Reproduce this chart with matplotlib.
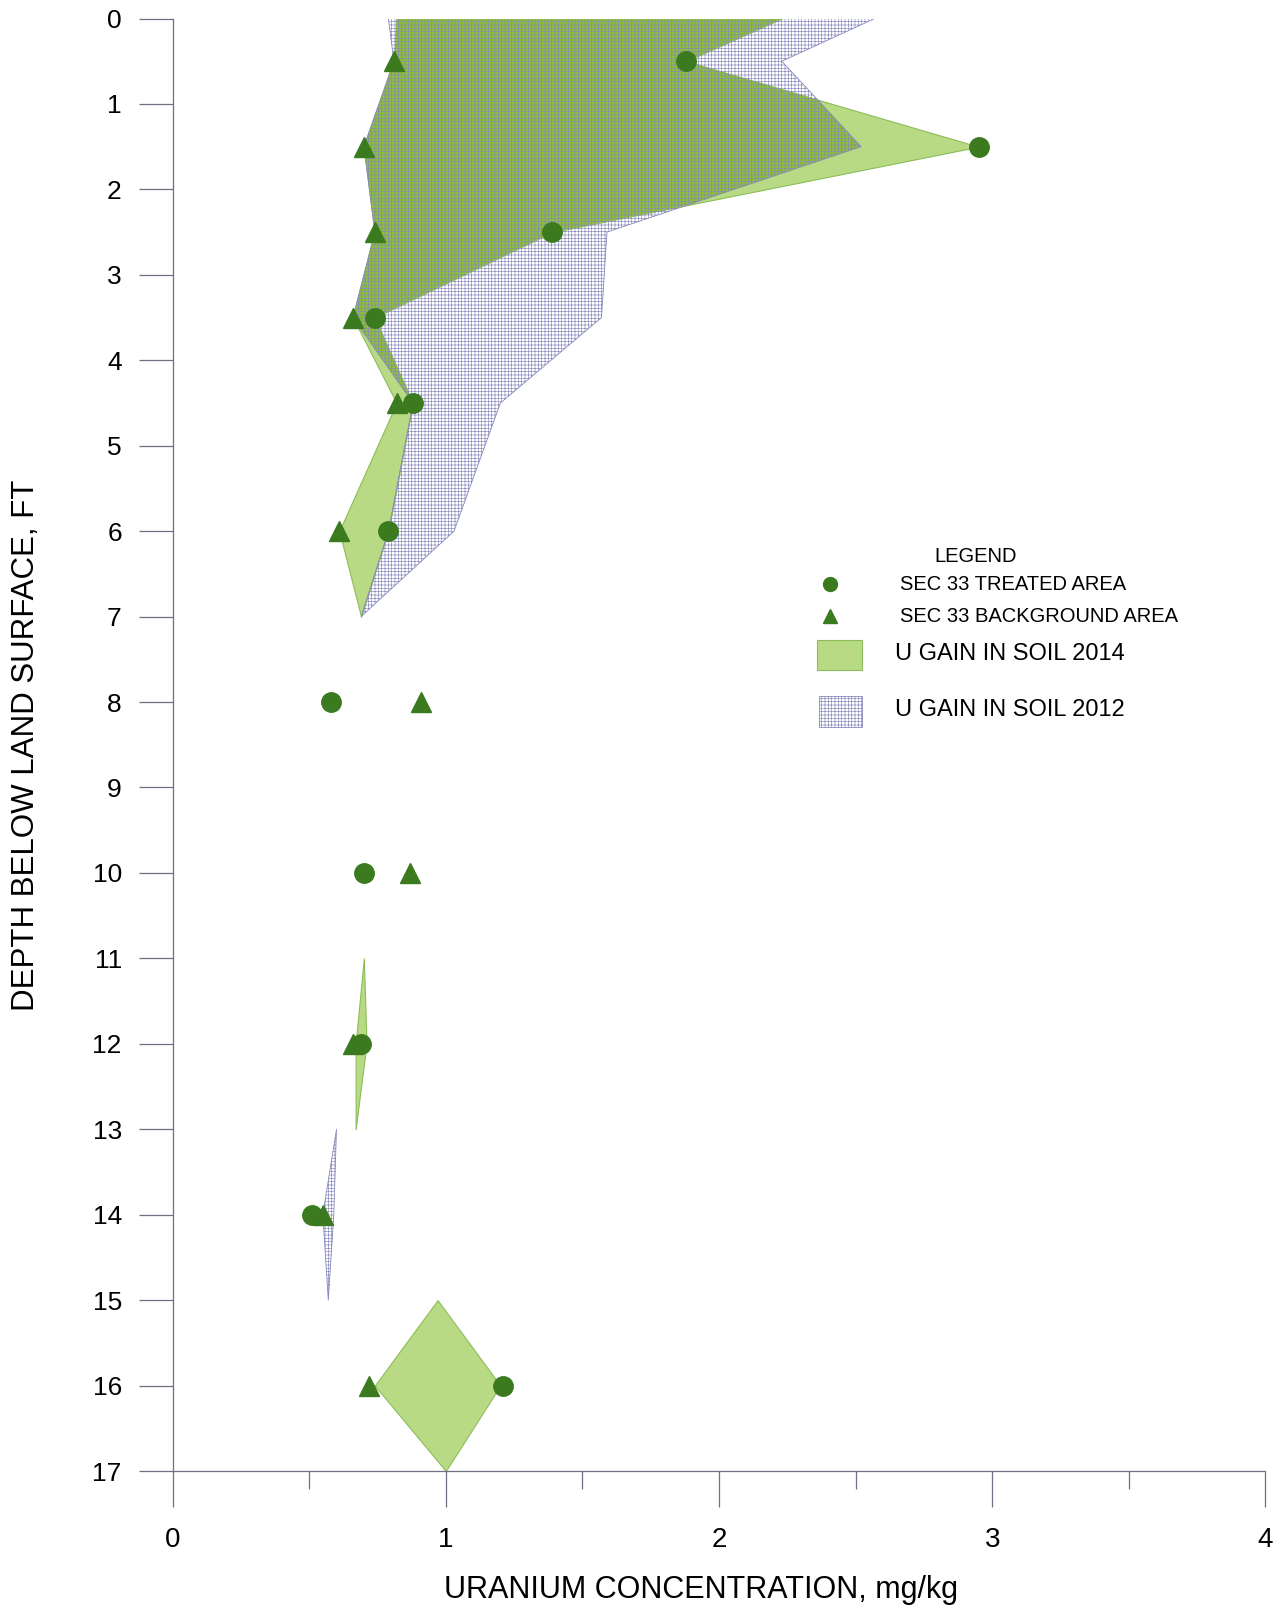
import matplotlib
matplotlib.use('Agg')
import matplotlib.pyplot as plt
from matplotlib.patches import Rectangle
from matplotlib.lines import Line2D

plt.rcParams['font.family'] = ['Liberation Sans', 'DejaVu Sans']
plt.rcParams['hatch.linewidth'] = 0.45

# sample depths (ft) and uranium concentration (mg/kg)
depth = [0.5, 1.5, 2.5, 3.5, 4.5, 6, 8, 10, 12, 14, 16]
treated = [1.88, 2.95, 1.39, 0.74, 0.88, 0.79, 0.58, 0.70, 0.69, 0.51, 1.21]
background = [0.81, 0.70, 0.74, 0.66, 0.82, 0.61, 0.91, 0.87, 0.66, 0.55, 0.72]

# U gain envelopes: depth, left edge, right edge (one entry per patch)
gain14_depth = [[0, 0.5, 1.5, 2.5, 3.5, 4.5, 6, 7], [11, 12, 13], [15, 16, 17]]
gain14_left = [[0.82, 0.81, 0.70, 0.74, 0.66, 0.82, 0.61, 0.69], [0.70, 0.67, 0.67], [0.97, 0.74, 1.00]]
gain14_right = [[2.23, 1.88, 2.95, 1.39, 0.74, 0.88, 0.79, 0.69], [0.70, 0.71, 0.67], [0.97, 1.20, 1.00]]

gain12_depth = [[0, 0.5, 1.5, 2.5, 3.5, 4.5, 6, 7], [13, 14, 15]]
gain12_left = [[0.79, 0.81, 0.70, 0.74, 0.66, 0.88, 0.79, 0.69], [0.60, 0.55, 0.57]]
gain12_right = [[2.57, 2.23, 2.52, 1.59, 1.57, 1.20, 1.03, 0.69], [0.60, 0.59, 0.57]]

green14 = '#b8da84'
green_dark = '#8cbf38'
green_edge = '#8cbd58'
grid12 = '#8888bc'
marker_c = '#3b7a1e'
axis_c = '#6e7080'

fig = plt.figure(figsize=(12.83, 16.11), dpi=100)
ax = fig.add_axes([0.1345, 0.0869, 0.8518, 0.9016])

# 2014 gain (solid green)
for d, l, r in zip(gain14_depth, gain14_left, gain14_right):
    ax.fill_betweenx(d, l, r, facecolor=green14, edgecolor=green_edge, lw=0.8, zorder=2)

# 2012 gain (grid hatch) over it, with darker green where both overlap
g12_polys = []
for d, l, r in zip(gain12_depth, gain12_left, gain12_right):
    p = ax.fill_betweenx(d, l, r, facecolor='none', edgecolor=grid12, hatch='+++++', lw=0.6, zorder=3)
    g12_polys.append(p)
dark = ax.fill_betweenx(gain14_depth[0], gain14_left[0], gain14_right[0],
                        facecolor=green_dark, edgecolor='none', zorder=2.5)
dark.set_clip_path(g12_polys[0].get_paths()[0], ax.transData)

ax.plot(treated, depth, 'o', ms=14, color=marker_c, mec=marker_c, zorder=5)
ax.plot(background, depth, '^', ms=15, color=marker_c, mec=marker_c, zorder=5)

ax.set_xlim(0, 4)
ax.set_ylim(17, 0)
for s in ['top', 'right']:
    ax.spines[s].set_visible(False)
for s in ['left', 'bottom']:
    ax.spines[s].set_color(axis_c)
    ax.spines[s].set_linewidth(0.9)

ax.set_yticks(range(0, 18))
ax.set_xticks(range(0, 5))
ax.set_xticks([0.5, 1.5, 2.5, 3.5], minor=True)
ax.tick_params(axis='y', direction='out', length=24.5, width=0.9, color=axis_c, pad=12, labelsize=19)
ax.tick_params(axis='x', which='major', direction='out', length=26, width=0.9, color=axis_c, pad=14, labelsize=20)
ax.tick_params(axis='x', which='minor', direction='out', length=13, width=0.9, color=axis_c)

fig.text(26 / 1283, 1 - 745 / 1611, 'DEPTH BELOW LAND SURFACE, FT', rotation=90,
         ha='center', va='center', fontsize=22.5)
fig.text(701 / 1283, 1 - 1590 / 1611, 'URANIUM CONCENTRATION, mg/kg',
         ha='center', va='center', fontsize=22)

# legend
W, H = 1283.0, 1611.0
fig.text(976 / W, 1 - 557 / H, 'LEGEND', ha='center', va='center', fontsize=14.5)
fig.add_artist(Line2D([830 / W], [1 - 584 / H], marker='o', ms=10, color=marker_c,
                      transform=fig.transFigure))
fig.text(900 / W, 1 - 585 / H, 'SEC 33 TREATED AREA', ha='left', va='center', fontsize=14.5)
fig.add_artist(Line2D([830 / W], [1 - 616 / H], marker='^', ms=10, color=marker_c,
                      transform=fig.transFigure))
fig.text(900 / W, 1 - 617 / H, 'SEC 33 BACKGROUND AREA', ha='left', va='center', fontsize=14.5)
fig.add_artist(Rectangle((817 / W, 1 - 670 / H), 45 / W, 30 / H, facecolor=green14,
                         edgecolor=green_edge, lw=0.8, transform=fig.transFigure))
fig.text(895 / W, 1 - 654 / H, 'U GAIN IN SOIL 2014', ha='left', va='center', fontsize=17)
fig.add_artist(Rectangle((819 / W, 1 - 727 / H), 43 / W, 31 / H, facecolor='white',
                         edgecolor=grid12, hatch='+++++', lw=0.6, transform=fig.transFigure))
fig.text(895 / W, 1 - 710 / H, 'U GAIN IN SOIL 2012', ha='left', va='center', fontsize=17)

fig.savefig('out.png', dpi=100)
